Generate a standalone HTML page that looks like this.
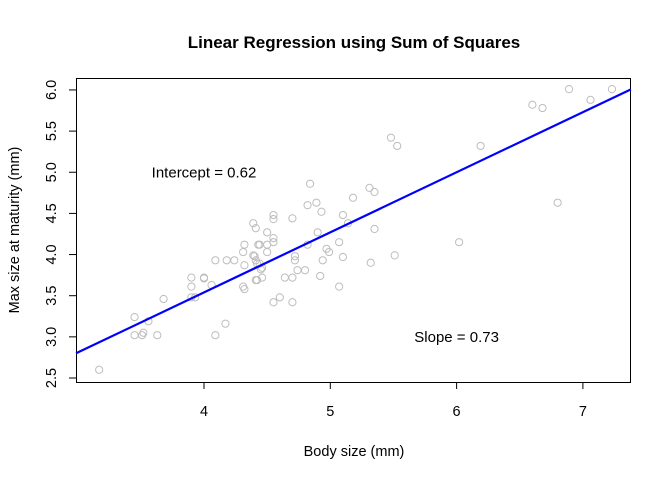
<!DOCTYPE html>
<html><head><meta charset="utf-8"><style>
body{margin:0;background:#fff}
svg text{font-family:"Liberation Sans",Arial,sans-serif;fill:#000}
</style></head><body>
<svg id="chart" width="672" height="480" xmlns="http://www.w3.org/2000/svg">
<text x="354" y="48" text-anchor="middle" font-size="17" font-weight="bold">Linear Regression using Sum of Squares</text>
<text x="354" y="456" text-anchor="middle" font-size="14.5">Body size (mm)</text>
<text transform="translate(19,230) rotate(-90)" text-anchor="middle" font-size="14.5">Max size at maturity (mm)</text>
<g id="points"></g>
<g id="axes"></g>
<rect x="76.5" y="78.5" width="554" height="304" fill="none" stroke="#000" stroke-width="1"/>
</svg>
<script>
const xs=[3.17,3.45,3.45,3.51,3.52,3.56,3.63,3.68,3.90,3.90,3.90,3.93,4.00,4.00,4.06,4.09,4.09,4.17,4.18,4.24,4.31,4.32,4.31,4.32,4.39,4.41,4.44,4.40,4.41,4.44,4.45,4.41,4.46,4.50,4.50,4.50,4.55,4.55,4.55,4.55,4.55,4.84,5.31,5.35,5.18,4.82,4.89,4.93,4.70,5.10,5.14,5.35,4.90,5.07,4.43,4.82,4.97,4.99,4.39,4.72,4.72,5.10,4.94,4.42,4.32,4.46,4.74,4.80,5.32,4.92,4.42,4.64,4.70,5.07,4.60,4.70,5.48,5.53,6.19,6.60,6.68,6.89,7.06,7.23,6.80,5.51,6.02];
const ys=[2.60,3.24,3.02,3.02,3.05,3.19,3.02,3.46,3.72,3.61,3.48,3.48,3.72,3.71,3.63,3.93,3.02,3.16,3.93,3.93,3.61,3.58,4.03,4.12,4.38,4.32,4.12,3.98,3.93,3.89,3.82,3.69,3.72,4.27,4.12,4.03,4.48,4.43,4.20,4.15,3.42,4.86,4.81,4.76,4.69,4.60,4.63,4.52,4.44,4.48,4.38,4.31,4.27,4.15,4.12,4.12,4.07,4.03,3.99,3.98,3.93,3.97,3.93,3.89,3.87,3.84,3.81,3.81,3.90,3.74,3.69,3.72,3.72,3.61,3.48,3.42,5.42,5.32,5.32,5.82,5.78,6.01,5.88,6.01,4.63,3.99,4.15];
const intercept=0.62, slope=0.73;
const xTicks=[4,5,6,7];
const yTicks=[2.5,3.0,3.5,4.0,4.5,5.0,5.5,6.0];
const NS="http://www.w3.org/2000/svg";
const X=v=>204+(v-4)*126.3;
const Y=v=>378-(v-2.5)*82.3;
const pts=document.getElementById('points'), ax=document.getElementById('axes'), svg=document.getElementById('chart');
function mk(t,a,p){const e=document.createElementNS(NS,t);for(const k in a)e.setAttribute(k,a[k]);(p||svg).appendChild(e);return e;}
xs.forEach((x,i)=>{
 const c=mk('circle',{cx:X(x),cy:Y(ys[i]),r:3.6,fill:'none',stroke:'#bdbdbd','stroke-width':1},pts);
 
 
});
const x0=2.987,x1=7.38;
const ln=mk('line',{x1:X(x0),y1:Y(intercept+slope*x0),x2:X(x1),y2:Y(intercept+slope*x1),stroke:'#0000ff','stroke-width':2.2});


xTicks.forEach(t=>{
 mk('line',{x1:X(t),y1:382,x2:X(t),y2:389,stroke:'#000'},ax);
 const tx=mk('text',{x:X(t),y:416,'text-anchor':'middle','font-size':14.5},ax);tx.textContent=t;
 
 
});
yTicks.forEach(t=>{
 mk('line',{x1:69,y1:Y(t),x2:76,y2:Y(t),stroke:'#000'},ax);
 const tx=mk('text',{transform:`translate(56,${Y(t)}) rotate(-90)`,'text-anchor':'middle','font-size':14.5},ax);tx.textContent=t.toFixed(1);
 
 
});
const a1=mk('text',{x:X(4),y:Y(5)+5,'text-anchor':'middle','font-size':15});a1.textContent='Intercept = '+intercept.toFixed(2);


const a2=mk('text',{x:X(6),y:Y(3)+5,'text-anchor':'middle','font-size':15});a2.textContent='Slope = '+slope.toFixed(2);


</script>
</body></html>
